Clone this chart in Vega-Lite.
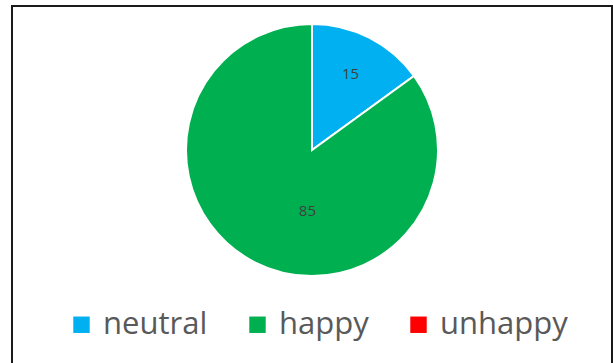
{
  "$schema": "https://vega.github.io/schema/vega-lite/v6.json",
  "autosize": "none",
  "width": 600,
  "height": 360,
  "padding": {"left": 12, "top": 6, "right": 1, "bottom": 0},
  "background": "white",
  "config": {
    "view": {"stroke": null},
    "font": "Open Sans"
  },
  "datasets": {
    "mood": [
      {"category": "neutral", "value": 15, "rank": 1},
      {"category": "happy", "value": 85, "rank": 2},
      {"category": "unhappy", "value": 0, "rank": 3}
    ],
    "frame": [{"box": "chart area"}]
  },
  "layer": [
    {
      "data": {"name": "frame"},
      "mark": {"type": "rect", "fill": null, "stroke": "#1a1a1a", "strokeWidth": 2},
      "encoding": {}
    },
    {
      "data": {"name": "mood"},
      "mark": {"type": "arc", "radius": 126, "stroke": "white", "strokeWidth": 2, "y": {"expr": "height/2 - 36"}},
      "encoding": {
        "theta": {"field": "value", "type": "quantitative", "stack": true},
        "order": {"field": "rank", "type": "quantitative", "sort": "ascending"},
        "color": {
          "field": "category",
          "type": "nominal",
          "scale": {"domain": ["neutral", "happy", "unhappy"], "range": ["#00B0F0", "#00B050", "#FF0000"]},
          "legend": {
            "title": null,
            "orient": "none",
            "direction": "horizontal",
            "legendX": 54,
            "legendY": 303,
            "symbolType": "square",
            "symbolSize": 270,
            "symbolStrokeWidth": 0,
            "labelFontSize": 31,
            "labelColor": "#595959",
            "labelFont": "Open Sans",
            "labelOffset": 6,
            "columnPadding": 34,
            "labelLimit": 300
          }
        }
      }
    },
    {
      "data": {"name": "mood"},
      "transform": [{"filter": "datum.value > 0"}],
      "mark": {
        "type": "text",
        "fontSize": 15,
        "color": "#404040",
        "radius": 85,
        "y": {"expr": "height/2 - 36"},
        "dx": {"expr": "datum.category == 'happy' ? 34 : 0"},
        "dy": {"expr": "datum.category == 'happy' ? -15 : 0"}
      },
      "encoding": {
        "theta": {"field": "value", "type": "quantitative", "stack": true},
        "order": {"field": "rank", "type": "quantitative", "sort": "ascending"},
        "text": {"field": "value", "type": "quantitative"}
      }
    }
  ]
}
